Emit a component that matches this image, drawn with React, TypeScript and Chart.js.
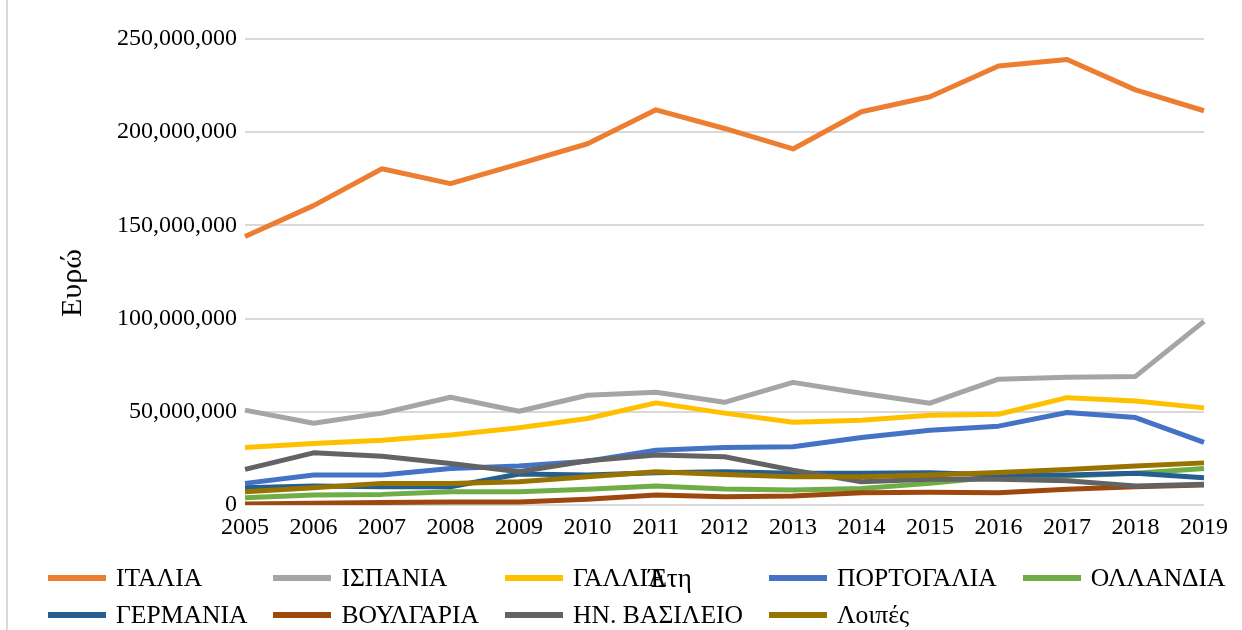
import React, { useEffect, useRef } from "react";
import { Chart, registerables } from "chart.js";

Chart.register(...registerables);

const years = ["2005", "2006", "2007", "2008", "2009", "2010", "2011", "2012", "2013", "2014", "2015", "2016", "2017", "2018", "2019"];

const italia = [144.0, 160.6, 180.4, 172.4, 183.0, 193.8, 212.0, 202.0, 191.0, 211.0, 219.0, 235.5, 239.0, 222.7, 211.5];
const ispania = [50.9, 43.9, 49.3, 57.8, 50.3, 58.9, 60.5, 55.1, 65.8, 60.0, 54.6, 67.5, 68.5, 69.0, 98.5];
const gallia = [30.9, 33.0, 34.8, 37.5, 41.4, 46.4, 54.8, 49.3, 44.4, 45.5, 48.2, 48.7, 57.6, 55.8, 52.1];
const portogalia = [11.6, 16.1, 16.1, 19.6, 20.9, 23.5, 29.4, 30.9, 31.2, 36.2, 40.1, 42.3, 49.6, 46.9, 33.6];
const ollandia = [3.9, 5.4, 5.7, 7.1, 7.1, 8.4, 10.2, 8.6, 8.0, 8.9, 11.6, 15.1, 15.5, 17.0, 19.6];
const germania = [9.3, 10.2, 9.8, 9.8, 16.6, 16.1, 17.3, 17.8, 17.0, 17.0, 17.3, 16.1, 16.1, 17.0, 14.6];
const voulgaria = [0.5, 0.9, 1.4, 1.6, 1.6, 3.1, 5.4, 4.4, 4.8, 6.6, 6.8, 6.6, 8.4, 9.8, 10.7];
const hnVasileio = [19.1, 28.0, 26.2, 22.3, 17.8, 23.7, 26.8, 25.9, 18.7, 12.5, 13.8, 13.8, 13.0, 10.2, 11.1];
const loipes = [7.1, 9.3, 11.6, 11.6, 12.5, 15.1, 17.8, 16.4, 15.1, 15.1, 16.1, 17.5, 19.1, 20.9, 22.6];

const seriesNames = ["ΙΤΑΛΙΑ", "ΙΣΠΑΝΙΑ", "ΓΑΛΛΙΑ", "ΠΟΡΤΟΓΑΛΙΑ", "ΟΛΛΑΝΔΙΑ", "ΓΕΡΜΑΝΙΑ", "ΒΟΥΛΓΑΡΙΑ", "ΗΝ. ΒΑΣΙΛΕΙΟ", "Λοιπές"];
const seriesValues = [italia, ispania, gallia, portogalia, ollandia, germania, voulgaria, hnVasileio, loipes];
const seriesColors = ["#ED7D31", "#A5A5A5", "#FFC000", "#4472C4", "#70AD47", "#255E91", "#9E480E", "#636363", "#997300"];

const yTicks = [0, 50000000, 100000000, 150000000, 200000000, 250000000];
const yTitle = "Ευρώ";
const xTitle = "Έτη";

const FONT = "'Liberation Serif', 'Times New Roman', serif";

export default function App() {
  const canvasRef = useRef<HTMLCanvasElement | null>(null);

  useEffect(() => {
    const canvas = canvasRef.current;
    if (!canvas) return;
    const n = seriesNames.length;
    const chart = new Chart(canvas, {
      type: "line",
      data: {
        labels: years,
        datasets: seriesNames.map((name, i) => ({
          label: name,
          data: seriesValues[i].map((v) => v * 1000000),
          borderColor: seriesColors[i],
          backgroundColor: seriesColors[i],
          borderWidth: 5,
          pointRadius: 0,
          pointHoverRadius: 0,
          tension: 0,
          borderJoinStyle: "round" as const,
          borderCapStyle: "butt" as const,
          order: n - i,
        })),
      },
      options: {
        animation: false,
        responsive: false,
        devicePixelRatio: 1,
        layout: { padding: { top: 39, right: 38, bottom: 85, left: 0 } },
        plugins: {
          legend: { display: false },
          tooltip: { enabled: false },
        },
        scales: {
          x: {
            offset: false,
            grid: { display: false, drawTicks: false },
            border: { display: false },
            ticks: {
              color: "#000",
              font: { family: FONT, size: 24 },
              padding: 8,
              maxRotation: 0,
              autoSkip: false,
            },
            afterFit: (s: any) => {
              s.height = 40;
            },
          },
          y: {
            min: 0,
            max: 250000000,
            afterBuildTicks: (s: any) => {
              s.ticks = yTicks.map((v) => ({ value: v }));
            },
            grid: { color: "#d9d9d9", lineWidth: 2, drawTicks: false },
            border: { display: false },
            ticks: {
              color: "#000",
              font: { family: FONT, size: 24 },
              padding: 8,
              callback: (v: any) => Number(v).toLocaleString("en-US"),
            },
            afterFit: (s: any) => {
              s.width = 245;
            },
          },
        },
      },
    });
    return () => chart.destroy();
  }, []);

  return (
    <div style={{ position: "fixed", left: 0, top: 0, width: 1242, height: 630, background: "#fff", overflow: "hidden" }}>
      <div style={{ position: "absolute", left: 6, top: 0, bottom: 0, width: 2, background: "#d9d9d9" }} />
      <canvas ref={canvasRef} width={1242} height={630} style={{ position: "absolute", left: 0, top: 0, width: 1242, height: 630 }} />
      <div
        style={{
          position: "absolute",
          left: 71,
          top: 283,
          transform: "translate(-50%, -50%) rotate(-90deg)",
          fontFamily: FONT,
          fontSize: 30,
          color: "#000",
          whiteSpace: "nowrap",
          lineHeight: 1,
        }}
      >
        {yTitle}
      </div>
      <div
        style={{
          position: "absolute",
          left: 48,
          top: 559,
          display: "grid",
          gridTemplateColumns: "repeat(5, max-content)",
          columnGap: 26,
          gridAutoRows: "37px",
          fontFamily: FONT,
          fontSize: 25.6,
          color: "#000",
        }}
      >
        {seriesNames.map((name, i) => (
          <div key={name} style={{ display: "flex", alignItems: "center", whiteSpace: "nowrap" }}>
            <span style={{ display: "inline-block", width: 58, height: 6, background: seriesColors[i], marginRight: 10 }} />
            <span>{name}</span>
          </div>
        ))}
      </div>
      <div
        style={{
          position: "absolute",
          left: 670,
          top: 578,
          transform: "translate(-50%, -50%)",
          fontFamily: FONT,
          fontSize: 27,
          color: "#000",
          whiteSpace: "nowrap",
        }}
      >
        {xTitle}
      </div>
    </div>
  );
}
